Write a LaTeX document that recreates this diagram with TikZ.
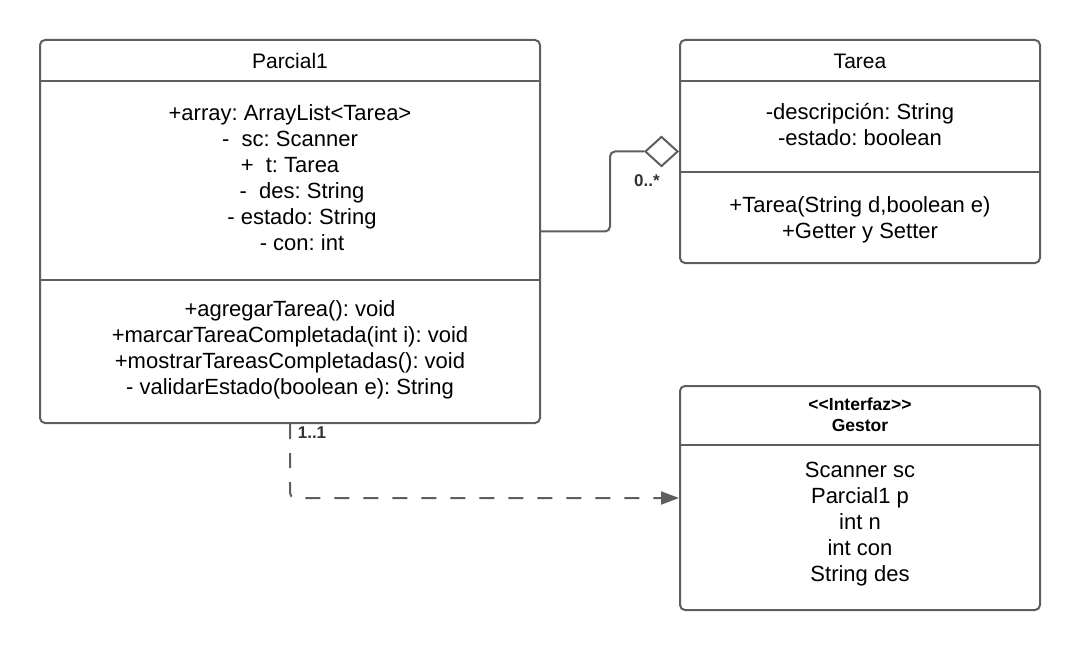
\documentclass[tikz,border=0pt]{standalone}
\usepackage{fontspec}
\setmainfont{Liberation Sans}
\usetikzlibrary{arrows.meta,shapes.geometric}
\definecolor{ln}{RGB}{94,94,94}
\definecolor{lbltext}{RGB}{51,51,51}
\frenchspacing
\begin{document}
\begin{tikzpicture}[x=1pt,y=-1pt,
  classbox/.style={draw=ln,line width=2pt,rounded corners=5pt,fill=white,inner sep=0pt},
  divider/.style={draw=ln,line width=2pt},
  txt/.style={align=center,font=\frenchspacing\fontsize{22}{26}\selectfont,inner sep=0pt},
  hdr/.style={align=center,font=\fontsize{21}{25}\selectfont,inner sep=0pt},
  ihdr/.style={align=center,font=\bfseries\fontsize{17.5}{21}\selectfont,inner sep=0pt},
  mult/.style={font=\bfseries\fontsize{17}{19}\selectfont,text=lbltext,inner sep=0pt},
  conn/.style={draw=ln,line width=2pt,rounded corners=5pt},
  aggdiamond/.style={diamond,draw=ln,line width=2pt,fill=white,inner sep=0pt,minimum width=33pt,minimum height=30pt},
  depline/.style={draw=ln,line width=2pt,rounded corners=5pt,dash pattern=on 15pt off 14pt,-{Triangle[length=18pt,width=13pt]}}
]
\useasboundingbox (0,0) rectangle (1080,650);

% boxes
\node[classbox,minimum width=500pt,minimum height=383pt] (p) at (290,231.5) {};
\node[classbox,minimum width=360pt,minimum height=223pt] (t) at (860,151.5) {};
\node[classbox,minimum width=360pt,minimum height=224pt] (g) at (860,498) {};

% dividers
\draw[divider] ([yshift=-42pt]p.north west) -- ([yshift=-42pt]p.north east);
\draw[divider] ([yshift=-241pt]p.north west) -- ([yshift=-241pt]p.north east);
\draw[divider] ([yshift=-42pt]t.north west) -- ([yshift=-42pt]t.north east);
\draw[divider] ([yshift=-133pt]t.north west) -- ([yshift=-133pt]t.north east);
\draw[divider] ([yshift=-60pt]g.north west) -- ([yshift=-60pt]g.north east);

% Parcial1 texts
\node[hdr] (pname) at (290,61) {Parcial1};
\node[txt] (pattr) at (290,178) {+array: ArrayList<Tarea>\\
-\ \ sc: Scanner\\
+\ \ t: Tarea\\
\hspace*{24pt}-\ \ des: String\\
\hspace*{24pt}- estado: String\\
\hspace*{24pt}- con: int};
\node[txt] (pmeth) at (290,349.5) {+agregarTarea(): void\\
+marcarTareaCompletada(int i): void\\
+mostrarTareasCompletadas(): void\\
- validarEstado(boolean e): String};

% Tarea texts
\node[hdr] (tname) at (860,61) {Tarea};
\node[txt] (tattr) at (860,125) {-descripción: String\\-estado: boolean};
\node[txt] (tmeth) at (860,219.5) {+Tarea(String d,boolean e)\\+Getter y Setter};

% Gestor texts
\node[ihdr] (gname) at (860,414.5) {<\kern0pt<Interfaz>\kern0pt>\\Gestor};
\node[txt] (gattr) at (860,524.5) {Scanner sc\\Parcial1 p\\int n\\int con\\String des};

% aggregation
\node[aggdiamond,anchor=east] (dia) at (t.west) {};
\coordinate (bend) at (610,0);
\draw[conn] (p.east) -- (bend |- p.east) -- (bend |- dia.west) -- (dia.west);
\node[mult] (m1) at (647,181) {0..*};

% dependency
\draw[depline] (p.south) |- (g.west);
\node[mult] (m2) at (312,433) {1..1};
\end{tikzpicture}
\end{document}
